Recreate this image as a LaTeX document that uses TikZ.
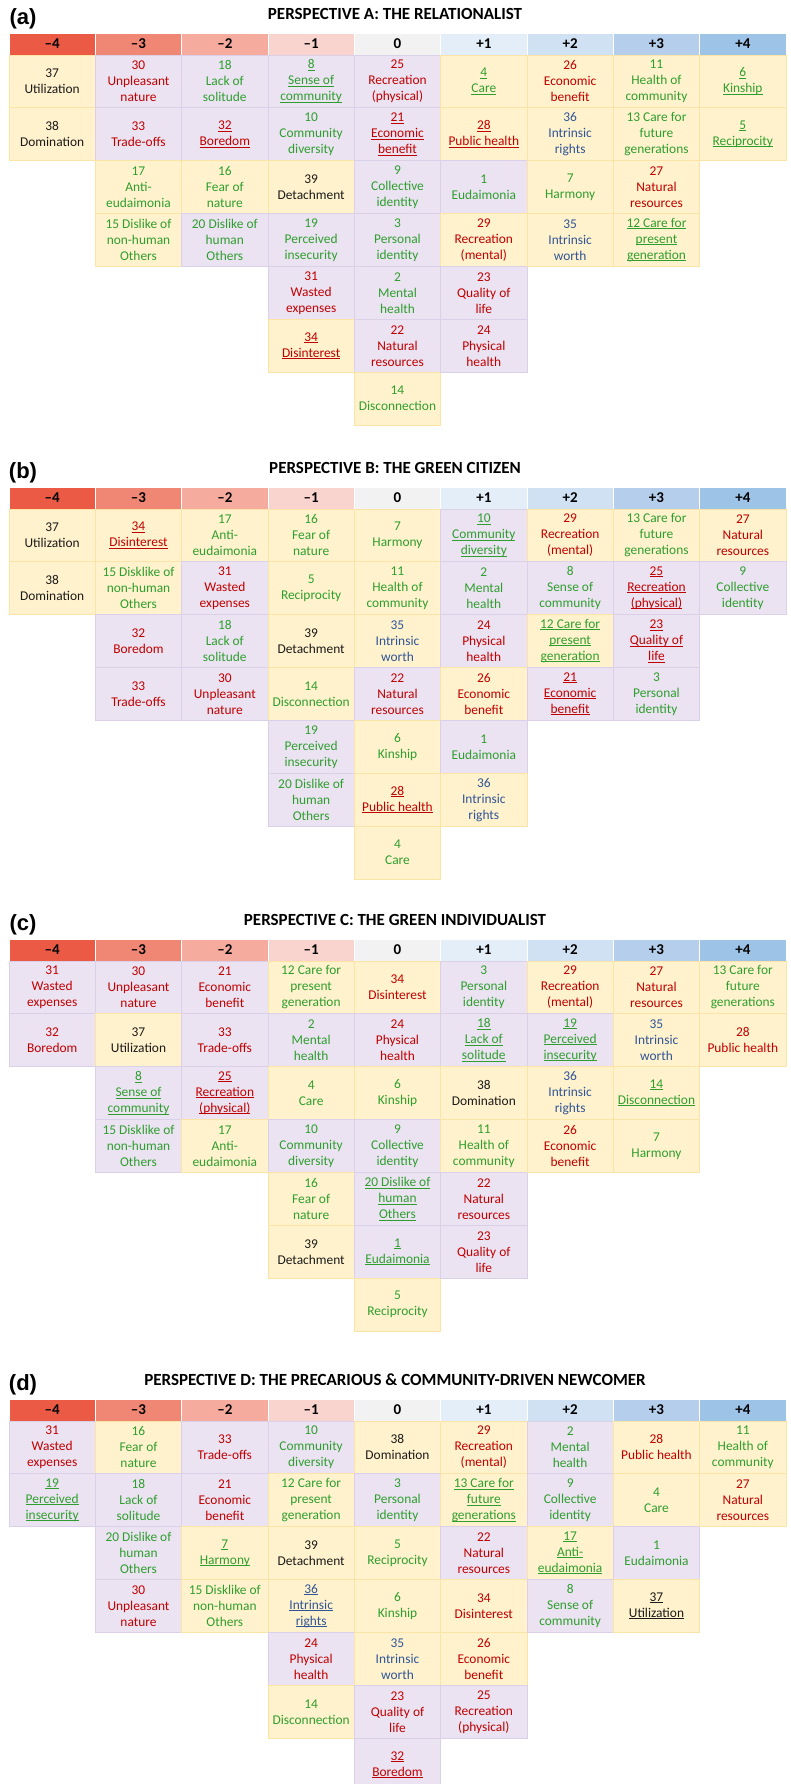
\documentclass[tikz,border=0pt]{standalone}
\usepackage{fontspec}
\setmainfont{Carlito}
\newfontfamily\labelfont{Liberation Sans}

%% colours of the column heads, -4 ... +4
\definecolor{hd1}{HTML}{EA5A44}
\definecolor{hd2}{HTML}{F08674}
\definecolor{hd3}{HTML}{F5AC9F}
\definecolor{hd4}{HTML}{F9D3CD}
\definecolor{hd5}{HTML}{F2F2F2}
\definecolor{hd6}{HTML}{E3EEF9}
\definecolor{hd7}{HTML}{CFE1F3}
\definecolor{hd8}{HTML}{B5CEEB}
\definecolor{hd9}{HTML}{9DC3E6}
%% cell fills and edges
\definecolor{cly}{HTML}{FFF2CC}
\definecolor{ely}{HTML}{FBE4A6}
\definecolor{clp}{HTML}{EBE3F2}
\definecolor{elp}{HTML}{DAD0E8}
%% statement colours
\definecolor{txr}{HTML}{C00000}
\definecolor{txg}{HTML}{2E9E2E}
\definecolor{txb}{HTML}{2F5597}
\definecolor{txk}{HTML}{1A1A1A}

\newsavebox\ulbox
\newcommand\ulin[1]{\sbox\ulbox{#1}\rlap{\rule[-1.8pt]{\wd\ulbox}{0.9pt}}\usebox\ulbox}
\newcommand\cellfont{\fontsize{13.4}{16}\selectfont}
\newcommand\hdlabels{1/{–4},2/{–3},3/{–2},4/{–1},5/{0},6/{+1},7/{+2},8/{+3},9/{+4}}

\begin{document}
\begin{tikzpicture}
[x=1pt,y=-1pt,
  cellbox/.style={minimum width=86.33,minimum height=52.86,inner sep=0pt,
    align=center,font=\cellfont,line width=0.8pt},
  hdbox/.style={minimum width=86.33,minimum height=22,inner sep=0pt,
    draw=white,line width=0.8pt,font=\fontsize{15}{16}\bfseries},
  paneltitle/.style={font=\fontsize{17}{19}\bfseries,inner sep=0pt},
  panellabel/.style={font=\labelfont\bfseries\fontsize{22}{25}\selectfont,inner sep=0pt}]
\clip (0,0) rectangle (790,1784);

%% panel (a)
\begin{scope}[shift={(0,0)}]
\node[panellabel] (a-label) at (23,19) {(a)};
\node[paneltitle] (a-title) at (395,14) {PERSPECTIVE A: THE RELATIONALIST};
\foreach \c/\h in \hdlabels
  \node[hdbox,fill=hd\c] (a-h\c) at ({9+86.33*(\c-0.5)},44) {\h};
\foreach \c/\cells in {
  1/{y/k/{37\\Utilization}, y/k/{38\\Domination}},
  2/{p/r/{30\\Unpleasant\\nature}, p/r/{33\\Trade-offs}, y/g/{17\\Anti-\\eudaimonia}, y/g/{15 Dislike of\\non-human\\Others}},
  3/{p/g/{18\\Lack of\\solitude}, p/r/{\ulin{32}\\\ulin{Boredom}}, y/g/{16\\Fear of\\nature}, p/g/{20 Dislike of\\human\\Others}},
  4/{p/g/{\ulin{8}\\\ulin{Sense of}\\\ulin{community}}, p/g/{10\\Community\\diversity}, y/k/{39\\Detachment}, p/g/{19\\Perceived\\insecurity}, p/r/{31\\Wasted\\expenses}, y/r/{\ulin{34}\\\ulin{Disinterest}}},
  5/{p/r/{25\\Recreation\\(physical)}, p/r/{\ulin{21}\\\ulin{Economic}\\\ulin{benefit}}, p/g/{9\\Collective\\identity}, p/g/{3\\Personal\\identity}, p/g/{2\\Mental\\health}, p/r/{22\\Natural\\resources}, y/g/{14\\Disconnection}},
  6/{y/g/{\ulin{4}\\\ulin{Care}}, y/r/{\ulin{28}\\\ulin{Public health}}, p/g/{1\\Eudaimonia}, y/r/{29\\Recreation\\(mental)}, p/r/{23\\Quality of\\life}, p/r/{24\\Physical\\health}},
  7/{y/r/{26\\Economic\\benefit}, y/b/{36\\Intrinsic\\rights}, y/g/{7\\Harmony}, y/b/{35\\Intrinsic\\worth}},
  8/{y/g/{11\\Health of\\community}, y/g/{13 Care for\\future\\generations}, y/r/{27\\Natural\\resources}, y/g/{\ulin{12 Care for}\\\ulin{present}\\\ulin{generation}}},
  9/{y/g/{\ulin{6}\\\ulin{Kinship}}, y/g/{\ulin{5}\\\ulin{Reciprocity}}}}
{
  \foreach \bg/\fg/\txt [count=\r] in \cells
    \node[cellbox,fill=cl\bg,draw=el\bg,text=tx\fg] (a-\c-\r)
      at ({9+86.33*(\c-0.5)},{55+52.86*(\r-0.5)}) {\txt};
}
\end{scope}

%% panel (b)
\begin{scope}[shift={(0,454)}]
\node[panellabel] (b-label) at (23,19) {(b)};
\node[paneltitle] (b-title) at (395,14) {PERSPECTIVE B: THE GREEN CITIZEN};
\foreach \c/\h in \hdlabels
  \node[hdbox,fill=hd\c] (b-h\c) at ({9+86.33*(\c-0.5)},44) {\h};
\foreach \c/\cells in {
  1/{y/k/{37\\Utilization}, y/k/{38\\Domination}},
  2/{y/r/{\ulin{34}\\\ulin{Disinterest}}, y/g/{15 Disklike of\\non-human\\Others}, p/r/{32\\Boredom}, p/r/{33\\Trade-offs}},
  3/{y/g/{17\\Anti-\\eudaimonia}, p/r/{31\\Wasted\\expenses}, p/g/{18\\Lack of\\solitude}, p/r/{30\\Unpleasant\\nature}},
  4/{y/g/{16\\Fear of\\nature}, y/g/{5\\Reciprocity}, y/k/{39\\Detachment}, y/g/{14\\Disconnection}, p/g/{19\\Perceived\\insecurity}, p/g/{20 Dislike of\\human\\Others}},
  5/{y/g/{7\\Harmony}, y/g/{11\\Health of\\community}, y/b/{35\\Intrinsic\\worth}, p/r/{22\\Natural\\resources}, y/g/{6\\Kinship}, y/r/{\ulin{28}\\\ulin{Public health}}, y/g/{4\\Care}},
  6/{p/g/{\ulin{10}\\\ulin{Community}\\\ulin{diversity}}, p/g/{2\\Mental\\health}, p/r/{24\\Physical\\health}, y/r/{26\\Economic\\benefit}, p/g/{1\\Eudaimonia}, y/b/{36\\Intrinsic\\rights}},
  7/{y/r/{29\\Recreation\\(mental)}, p/g/{8\\Sense of\\community}, y/g/{\ulin{12 Care for}\\\ulin{present}\\\ulin{generation}}, p/r/{\ulin{21}\\\ulin{Economic}\\\ulin{benefit}}},
  8/{y/g/{13 Care for\\future\\generations}, p/r/{\ulin{25}\\\ulin{Recreation}\\\ulin{(physical)}}, p/r/{\ulin{23}\\\ulin{Quality of}\\\ulin{life}}, p/g/{3\\Personal\\identity}},
  9/{y/r/{27\\Natural\\resources}, p/g/{9\\Collective\\identity}}}
{
  \foreach \bg/\fg/\txt [count=\r] in \cells
    \node[cellbox,fill=cl\bg,draw=el\bg,text=tx\fg] (b-\c-\r)
      at ({9+86.33*(\c-0.5)},{55+52.86*(\r-0.5)}) {\txt};
}
\end{scope}

%% panel (c)
\begin{scope}[shift={(0,906)}]
\node[panellabel] (c-label) at (23,19) {(c)};
\node[paneltitle] (c-title) at (395,14) {PERSPECTIVE C: THE GREEN INDIVIDUALIST};
\foreach \c/\h in \hdlabels
  \node[hdbox,fill=hd\c] (c-h\c) at ({9+86.33*(\c-0.5)},44) {\h};
\foreach \c/\cells in {
  1/{p/r/{31\\Wasted\\expenses}, p/r/{32\\Boredom}},
  2/{p/r/{30\\Unpleasant\\nature}, y/k/{37\\Utilization}, p/g/{\ulin{8}\\\ulin{Sense of}\\\ulin{community}}, p/g/{15 Disklike of\\non-human\\Others}},
  3/{p/r/{21\\Economic\\benefit}, p/r/{33\\Trade-offs}, p/r/{\ulin{25}\\\ulin{Recreation}\\\ulin{(physical)}}, y/g/{17\\Anti-\\eudaimonia}},
  4/{y/g/{12 Care for\\present\\generation}, p/g/{2\\Mental\\health}, y/g/{4\\Care}, p/g/{10\\Community\\diversity}, y/g/{16\\Fear of\\nature}, y/k/{39\\Detachment}},
  5/{y/r/{34\\Disinterest}, p/r/{24\\Physical\\health}, y/g/{6\\Kinship}, p/g/{9\\Collective\\identity}, p/g/{\ulin{20 Dislike of}\\\ulin{human}\\\ulin{Others}}, p/g/{\ulin{1}\\\ulin{Eudaimonia}}, y/g/{5\\Reciprocity}},
  6/{p/g/{3\\Personal\\identity}, p/g/{\ulin{18}\\\ulin{Lack of}\\\ulin{solitude}}, y/k/{38\\Domination}, y/g/{11\\Health of\\community}, p/r/{22\\Natural\\resources}, p/r/{23\\Quality of\\life}},
  7/{y/r/{29\\Recreation\\(mental)}, p/g/{\ulin{19}\\\ulin{Perceived}\\\ulin{insecurity}}, y/b/{36\\Intrinsic\\rights}, y/r/{26\\Economic\\benefit}},
  8/{y/r/{27\\Natural\\resources}, y/b/{35\\Intrinsic\\worth}, y/g/{\ulin{14}\\\ulin{Disconnection}}, y/g/{7\\Harmony}},
  9/{y/g/{13 Care for\\future\\generations}, y/r/{28\\Public health}}}
{
  \foreach \bg/\fg/\txt [count=\r] in \cells
    \node[cellbox,fill=cl\bg,draw=el\bg,text=tx\fg] (c-\c-\r)
      at ({9+86.33*(\c-0.5)},{55+52.86*(\r-0.5)}) {\txt};
}
\end{scope}

%% panel (d)
\begin{scope}[shift={(0,1366)}]
\node[panellabel] (d-label) at (23,19) {(d)};
\node[paneltitle] (d-title) at (395,14) {PERSPECTIVE D: THE PRECARIOUS \& COMMUNITY-DRIVEN NEWCOMER};
\foreach \c/\h in \hdlabels
  \node[hdbox,fill=hd\c] (d-h\c) at ({9+86.33*(\c-0.5)},44) {\h};
\foreach \c/\cells in {
  1/{p/r/{31\\Wasted\\expenses}, p/g/{\ulin{19}\\\ulin{Perceived}\\\ulin{insecurity}}},
  2/{y/g/{16\\Fear of\\nature}, p/g/{18\\Lack of\\solitude}, p/g/{20 Dislike of\\human\\Others}, p/r/{30\\Unpleasant\\nature}},
  3/{p/r/{33\\Trade-offs}, p/r/{21\\Economic\\benefit}, y/g/{\ulin{7}\\\ulin{Harmony}}, y/g/{15 Disklike of\\non-human\\Others}},
  4/{p/g/{10\\Community\\diversity}, y/g/{12 Care for\\present\\generation}, y/k/{39\\Detachment}, y/b/{\ulin{36}\\\ulin{Intrinsic}\\\ulin{rights}}, p/r/{24\\Physical\\health}, y/g/{14\\Disconnection}},
  5/{y/k/{38\\Domination}, p/g/{3\\Personal\\identity}, y/g/{5\\Reciprocity}, y/g/{6\\Kinship}, y/b/{35\\Intrinsic\\worth}, p/r/{23\\Quality of\\life}, p/r/{\ulin{32}\\\ulin{Boredom}}},
  6/{y/r/{29\\Recreation\\(mental)}, y/g/{\ulin{13 Care for}\\\ulin{future}\\\ulin{generations}}, p/r/{22\\Natural\\resources}, y/r/{34\\Disinterest}, y/r/{26\\Economic\\benefit}, p/r/{25\\Recreation\\(physical)}},
  7/{p/g/{2\\Mental\\health}, p/g/{9\\Collective\\identity}, y/g/{\ulin{17}\\\ulin{Anti-}\\\ulin{eudaimonia}}, p/g/{8\\Sense of\\community}},
  8/{y/r/{28\\Public health}, y/g/{4\\Care}, p/g/{1\\Eudaimonia}, y/k/{\ulin{37}\\\ulin{Utilization}}},
  9/{y/g/{11\\Health of\\community}, y/r/{27\\Natural\\resources}}}
{
  \foreach \bg/\fg/\txt [count=\r] in \cells
    \node[cellbox,fill=cl\bg,draw=el\bg,text=tx\fg] (d-\c-\r)
      at ({9+86.33*(\c-0.5)},{55+52.86*(\r-0.5)}) {\txt};
}
\end{scope}
\end{tikzpicture}
\end{document}
